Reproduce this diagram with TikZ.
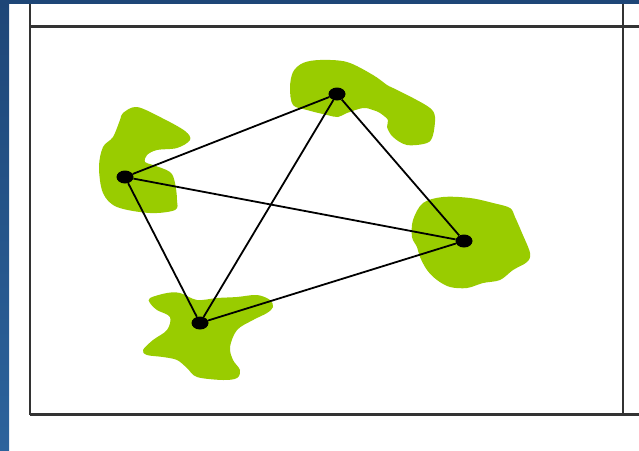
\documentclass[tikz,border=0pt]{standalone}
\usetikzlibrary{shapes.geometric}
\begin{document}
\begin{tikzpicture}[x=1pt,y=-1pt,
  frameline/.style={draw=black!80,line width=2.2pt},
  edge/.style={draw=black,line width=1.8pt},
  vertex/.style={ellipse,fill=black,inner sep=0pt,minimum width=17pt,minimum height=13pt},
  blob/.style={fill=blobgreen,draw=none}]
\definecolor{blobgreen}{RGB}{153,204,0}
\definecolor{bluetop}{RGB}{30,70,119}
\definecolor{bluebot}{RGB}{44,99,156}
\useasboundingbox (0,0) rectangle (639,450);
\fill[white] (0,0) rectangle (639,450);
% blue border
\shade[top color=bluetop,bottom color=bluebot] (0,0) rectangle (9,450);
\fill[bluetop] (0,0) rectangle (639,4);
% frame
\coordinate (tl) at (30,4);
\coordinate (bl) at (30,415);
\coordinate (tr) at (623,4);
\coordinate (br) at (623,415);
\coordinate (hl) at (30,26.5);
\coordinate (hr) at (639,26.5);
\coordinate (bll) at (30,414.5);
\coordinate (brr) at (639,414.5);
\draw[frameline] (tl) -- (bl);
\draw[frameline] (tr) -- (br);
\draw[frameline] (hl) -- (hr);
\draw[frameline] (bll) -- (brr);
% blobs
\fill[blob] plot[smooth cycle,tension=0.55] coordinates {
 (123,113) (137,107) (162,118) (185,131) (190,140) (177,148) (157,150)
 (147,155) (145,162) (153,165) (170,172) (175,183) (177,200) (175,210)
 (150,213) (117,207) (103,193) (99,167) (103,147) (113,137) (120,120)};
\fill[blob] plot[smooth cycle,tension=0.55] coordinates {
 (293,72) (303,63) (320,60) (347,62) (373,75) (387,85) (393,88) (413,98)
 (430,108) (435,117) (433,135) (427,143) (407,145) (393,137) (387,127)
 (388,120) (380,113) (373,110) (363,108) (347,113) (338,117) (327,115)
 (307,110) (293,105) (290,88)};
\fill[blob] plot[smooth cycle,tension=0.55] coordinates {
 (423,203) (443,197) (470,198) (493,203) (510,208) (515,217) (522,233)
 (530,253) (527,262) (513,270) (500,280) (483,283) (467,288) (450,287)
 (437,280) (427,270) (420,257) (417,247) (412,237) (413,220)};
\fill[blob] plot[smooth cycle,tension=0.55] coordinates {
 (150,298) (167,293) (180,293) (197,300) (217,298) (237,297) (257,295)
 (270,300) (273,307) (267,313) (253,320) (237,330) (230,347) (233,360)
 (240,370) (237,378) (223,380) (197,377) (187,368) (177,360) (163,357)
 (147,355) (143,350) (153,340) (167,330) (170,317) (157,310) (150,303)};
% vertices
\node[vertex] (A) at (125,177) {};
\node[vertex] (B) at (337,94) {};
\node[vertex] (C) at (464,241) {};
\node[vertex] (D) at (200,323) {};
% edges
\draw[edge] (A) -- (B);
\draw[edge] (A) -- (C);
\draw[edge] (A) -- (D);
\draw[edge] (B) -- (D);
\draw[edge] (B) -- (C);
\draw[edge] (D) -- (C);
\end{tikzpicture}
\end{document}
